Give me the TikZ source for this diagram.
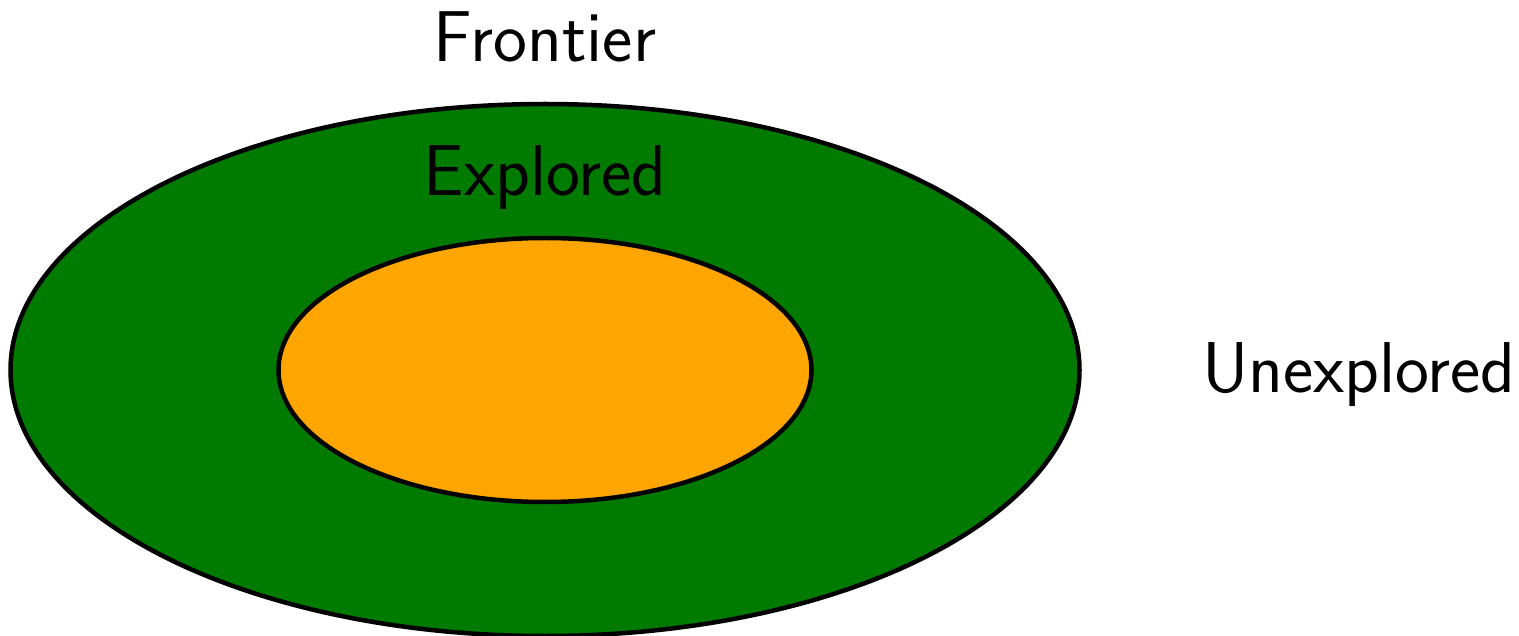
\documentclass[tikz,border=0pt]{standalone}
\usetikzlibrary{shapes.geometric}
\definecolor{regiongreen}{RGB}{0,123,0}
\definecolor{regionorange}{RGB}{255,165,0}
\begin{document}
\begin{tikzpicture}[x=1pt,y=-1pt,
  region/.style={ellipse,draw=black,line width=4.5pt,inner sep=0pt},
  label/.style={font=\sffamily\fontsize{72}{76}\selectfont,inner sep=0pt,anchor=base}]
  \useasboundingbox (0,0) rectangle (1519,636);
  \node[region,fill=regiongreen,minimum width=1069pt,minimum height=532pt] (outer) at (545,370) {};
  \node[region,fill=regionorange,minimum width=533pt,minimum height=264pt] (inner) at (545,370) {};
  \node[label] (frontier) at (545,62) {Frontier};
  \node[label] (explored) at (545,196) {Explored};
  \node[label] (unexplored) at (1359,393) {Unexplored};
\end{tikzpicture}
\end{document}
